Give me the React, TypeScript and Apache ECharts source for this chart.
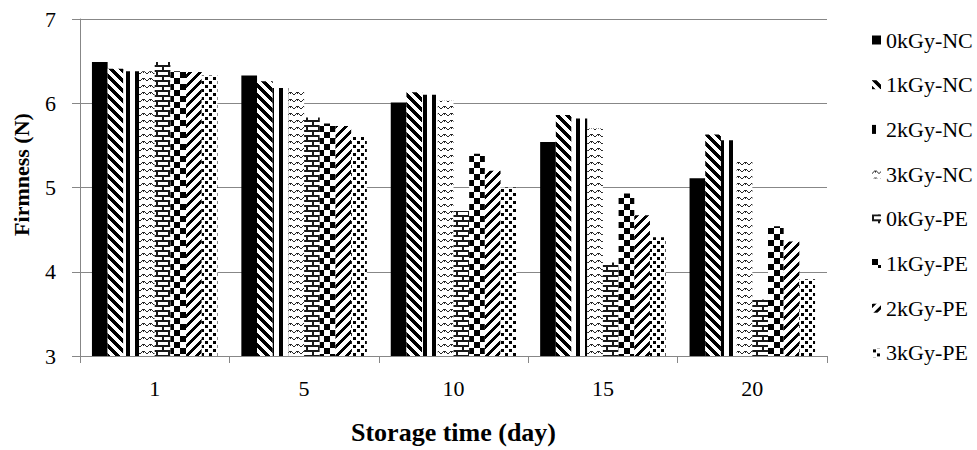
import React, { useEffect, useRef } from "react";
import * as echarts from "echarts";

const categories = ["1", "5", "10", "15", "20"];
const seriesNames = [
  "0kGy-NC",
  "1kGy-NC",
  "2kGy-NC",
  "3kGy-NC",
  "0kGy-PE",
  "1kGy-PE",
  "2kGy-PE",
  "3kGy-PE",
];
const nc0 = [6.49, 6.33, 6.01, 5.54, 5.11];
const nc1 = [6.41, 6.26, 6.13, 5.86, 5.63];
const nc2 = [6.38, 6.18, 6.1, 5.82, 5.56];
const nc3 = [6.38, 6.15, 6.03, 5.7, 5.31];
const pe0 = [6.49, 5.83, 4.72, 4.11, 3.67];
const pe1 = [6.38, 5.76, 5.4, 4.93, 4.54];
const pe2 = [6.37, 5.73, 5.2, 4.67, 4.36];
const pe3 = [6.33, 5.6, 5.0, 4.41, 3.91];
const seriesValues = [nc0, nc1, nc2, nc3, pe0, pe1, pe2, pe3];

const FONT = "Liberation Serif";
const GRID_COLOR = "#878787";

function makeTile(
  w: number,
  h: number,
  fn: (x: number, y: number) => number
): HTMLCanvasElement {
  const c = document.createElement("canvas");
  c.width = w;
  c.height = h;
  const ctx = c.getContext("2d")!;
  const img = ctx.createImageData(w, h);
  for (let y = 0; y < h; y++) {
    for (let x = 0; x < w; x++) {
      const d = fn(x, y);
      const v = Math.round(255 * (1 - d));
      const i = (y * w + x) * 4;
      img.data[i] = v;
      img.data[i + 1] = v;
      img.data[i + 2] = v;
      img.data[i + 3] = 255;
    }
  }
  ctx.putImageData(img, 0, 0);
  return c;
}

function pattern(c: HTMLCanvasElement): any {
  return {
    image: c,
    repeat: "repeat",
    imageWidth: c.width,
    imageHeight: c.height,
  };
}

function buildPatterns(): any[] {
  const back = makeTile(10, 10, (x, y) => (((x - y + 100) % 10) < 5 ? 1 : 0));
  const vert = makeTile(9, 9, (x) => (x % 9 < 4 ? 1 : 0));
  const arcPts = [
    [2, 1], [3, 1], [4, 1], [1, 2], [5, 2], [0, 3], [6, 3], [3, 2],
  ];
  const arcs = makeTile(7, 7, (x, y) =>
    arcPts.some((p) => p[0] === x && p[1] === y) ? 0.85 : 0
  );
  const brick = makeTile(12, 10, (x, y) => {
    if (y === 0 || y === 1 || y === 5 || y === 6) return 0.9;
    if (y >= 2 && y <= 4 && (x === 0 || x === 1)) return 0.9;
    if (y >= 7 && (x === 6 || x === 7)) return 0.9;
    return 0;
  });
  const checker = makeTile(12, 12, (x, y) =>
    (Math.floor(x / 6) + Math.floor(y / 6)) % 2 === 0 ? 1 : 0
  );
  const fwd = makeTile(10, 10, (x, y) => ((x + y) % 10 < 4 ? 1 : 0));
  const dots = makeTile(8, 8, (x, y) => {
    const a = x >= 1 && x <= 3 && y >= 1 && y <= 3;
    const b = x >= 5 && x <= 7 && y >= 5 && y <= 7;
    return a || b ? 1 : 0;
  });
  return [
    "#000000",
    pattern(back),
    pattern(vert),
    pattern(arcs),
    pattern(brick),
    pattern(checker),
    pattern(fwd),
    pattern(dots),
  ];
}

export default function App() {
  const ref = useRef<HTMLDivElement>(null);
  useEffect(() => {
    if (!ref.current) return;
    document.body.style.margin = "0";
    const chart = echarts.init(ref.current, undefined, { renderer: "svg" });
    const fills = buildPatterns();
    const option: any = {
      animation: false,
      backgroundColor: "#ffffff",
      textStyle: { fontFamily: FONT },
      grid: { left: 80, right: 150, top: 19, bottom: 93 },
      legend: {
        orient: "vertical",
        left: 872,
        top: 29,
        padding: 0,
        itemWidth: 9,
        itemHeight: 9,
        itemGap: 22.7,
        icon: "rect",
        data: seriesNames,
        textStyle: { fontFamily: FONT, fontSize: 22, color: "#000" },
      },
      xAxis: {
        type: "category",
        data: categories,
        name: "Storage time (day)",
        nameLocation: "middle",
        nameGap: 63,
        nameTextStyle: {
          fontFamily: FONT,
          fontSize: 26,
          fontWeight: "bold",
          color: "#000",
        },
        axisLine: { show: true, lineStyle: { color: GRID_COLOR, width: 1 } },
        axisTick: {
          show: true,
          alignWithLabel: false,
          length: 7,
          lineStyle: { color: GRID_COLOR },
        },
        axisLabel: { fontFamily: FONT, fontSize: 22, color: "#000", margin: 21 },
        splitLine: { show: false },
      },
      yAxis: {
        type: "value",
        min: 3,
        max: 7,
        interval: 1,
        name: "Firmness (N)",
        nameLocation: "middle",
        nameGap: 48,
        nameTextStyle: {
          fontFamily: FONT,
          fontSize: 22,
          fontWeight: "bold",
          color: "#000",
          padding: [0, 0, 0, 26],
        },
        axisLine: { show: true, lineStyle: { color: GRID_COLOR, width: 1 } },
        axisTick: { show: true, length: 8, lineStyle: { color: GRID_COLOR } },
        axisLabel: { fontFamily: FONT, fontSize: 22, color: "#000", margin: 24 },
        splitLine: { show: true, lineStyle: { color: GRID_COLOR, width: 1 } },
      },
      series: seriesNames.map((name, i) => ({
        name,
        type: "bar",
        data: seriesValues[i],
        barGap: "0%",
        barCategoryGap: "16%",
        itemStyle: { color: fills[i] },
      })),
    };
    chart.setOption(option);
    return () => chart.dispose();
  }, []);
  return (
    <div
      ref={ref}
      style={{ width: 977, height: 450, position: "absolute", left: 0, top: 0 }}
    />
  );
}
